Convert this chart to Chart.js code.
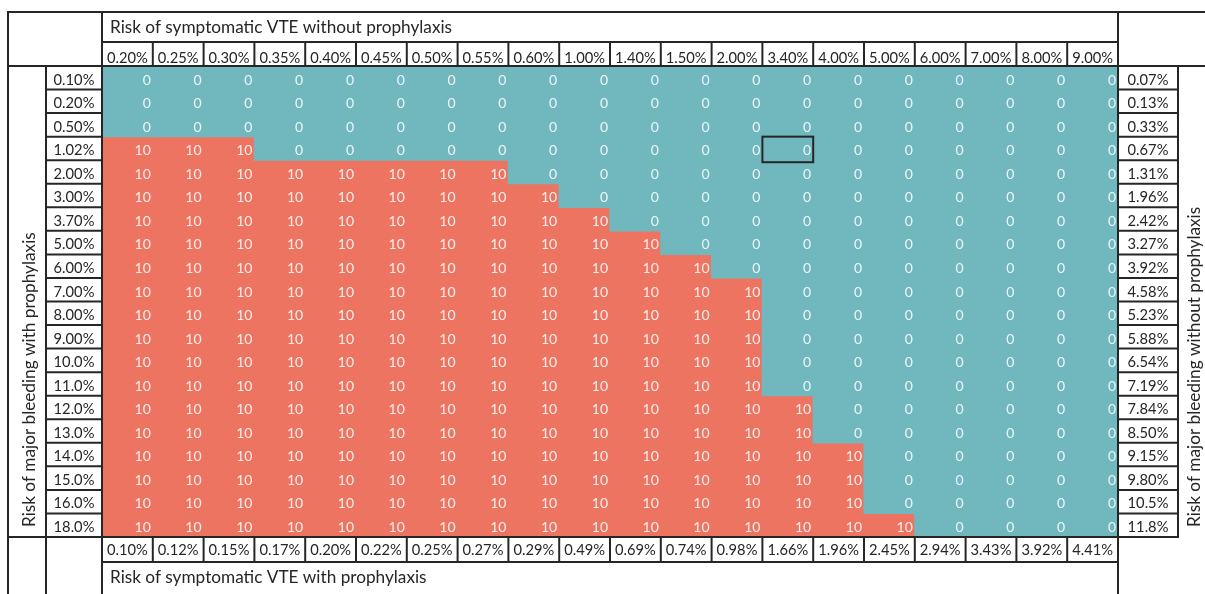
<!DOCTYPE html>
<html>
<head>
<meta charset="utf-8">
<script src="https://cdn.jsdelivr.net/npm/chart.js@4.4.1/dist/chart.umd.min.js"></script>
<style>
html,body{margin:0;padding:0;background:#fff;}
#wrap{width:1205px;height:594px;position:relative;}
</style>
</head>
<body>
<div id="wrap"><canvas id="c"></canvas></div>
<script>
// ---------- data ----------
const topTitle = 'Risk of symptomatic VTE without prophylaxis';
const bottomTitle = 'Risk of symptomatic VTE with prophylaxis';
const leftTitle = 'Risk of major bleeding with prophylaxis';
const rightTitle = 'Risk of major bleeding without prophylaxis';

const vteWithout = ['0.20%','0.25%','0.30%','0.35%','0.40%','0.45%','0.50%','0.55%','0.60%','1.00%',
                    '1.40%','1.50%','2.00%','3.40%','4.00%','5.00%','6.00%','7.00%','8.00%','9.00%'];
const vteWith = ['0.10%','0.12%','0.15%','0.17%','0.20%','0.22%','0.25%','0.27%','0.29%','0.49%',
                 '0.69%','0.74%','0.98%','1.66%','1.96%','2.45%','2.94%','3.43%','3.92%','4.41%'];
const bleedWith = ['0.10%','0.20%','0.50%','1.02%','2.00%','3.00%','3.70%','5.00%','6.00%','7.00%',
                   '8.00%','9.00%','10.0%','11.0%','12.0%','13.0%','14.0%','15.0%','16.0%','18.0%'];
const bleedWithout = ['0.07%','0.13%','0.33%','0.67%','1.31%','1.96%','2.42%','3.27%','3.92%','4.58%',
                      '5.23%','5.88%','6.54%','7.19%','7.84%','8.50%','9.15%','9.80%','10.5%','11.8%'];

// one row per bleeding-with-prophylaxis level, one value per VTE-without-prophylaxis level
const cellValues = [
  [ 0, 0, 0, 0, 0, 0, 0, 0, 0, 0, 0, 0, 0, 0, 0, 0, 0, 0, 0, 0],
  [ 0, 0, 0, 0, 0, 0, 0, 0, 0, 0, 0, 0, 0, 0, 0, 0, 0, 0, 0, 0],
  [ 0, 0, 0, 0, 0, 0, 0, 0, 0, 0, 0, 0, 0, 0, 0, 0, 0, 0, 0, 0],
  [10,10,10, 0, 0, 0, 0, 0, 0, 0, 0, 0, 0, 0, 0, 0, 0, 0, 0, 0],
  [10,10,10,10,10,10,10,10, 0, 0, 0, 0, 0, 0, 0, 0, 0, 0, 0, 0],
  [10,10,10,10,10,10,10,10,10, 0, 0, 0, 0, 0, 0, 0, 0, 0, 0, 0],
  [10,10,10,10,10,10,10,10,10,10, 0, 0, 0, 0, 0, 0, 0, 0, 0, 0],
  [10,10,10,10,10,10,10,10,10,10,10, 0, 0, 0, 0, 0, 0, 0, 0, 0],
  [10,10,10,10,10,10,10,10,10,10,10,10, 0, 0, 0, 0, 0, 0, 0, 0],
  [10,10,10,10,10,10,10,10,10,10,10,10,10, 0, 0, 0, 0, 0, 0, 0],
  [10,10,10,10,10,10,10,10,10,10,10,10,10, 0, 0, 0, 0, 0, 0, 0],
  [10,10,10,10,10,10,10,10,10,10,10,10,10, 0, 0, 0, 0, 0, 0, 0],
  [10,10,10,10,10,10,10,10,10,10,10,10,10, 0, 0, 0, 0, 0, 0, 0],
  [10,10,10,10,10,10,10,10,10,10,10,10,10, 0, 0, 0, 0, 0, 0, 0],
  [10,10,10,10,10,10,10,10,10,10,10,10,10,10, 0, 0, 0, 0, 0, 0],
  [10,10,10,10,10,10,10,10,10,10,10,10,10,10, 0, 0, 0, 0, 0, 0],
  [10,10,10,10,10,10,10,10,10,10,10,10,10,10,10, 0, 0, 0, 0, 0],
  [10,10,10,10,10,10,10,10,10,10,10,10,10,10,10, 0, 0, 0, 0, 0],
  [10,10,10,10,10,10,10,10,10,10,10,10,10,10,10, 0, 0, 0, 0, 0],
  [10,10,10,10,10,10,10,10,10,10,10,10,10,10,10,10, 0, 0, 0, 0]
];

const highlightRow = '1.02%';
const highlightCol = '3.40%';

// ---------- style ----------
const TEAL = '#70B8BE';
const SALMON = '#EE7462';
const INK = '#262626';
const FONT = 'Lato, "Open Sans", sans-serif';

// ---------- build chart ----------
const datasets = bleedWith.map((rowLabel, i) => ({
  label: rowLabel,
  data: vteWithout.map(() => 1),
  backgroundColor: cellValues[i].map(v => v >= 10 ? SALMON : TEAL),
  borderWidth: 0,
  barPercentage: 1,
  categoryPercentage: 1,
  inflateAmount: 0.6,
  stack: 'grid'
}));

const tablePlugin = {
  id: 'tableFrame',
  afterDatasetsDraw(chart) {
    const {ctx, chartArea: ca, scales: {x, y}} = chart;
    const nC = vteWithout.length, nR = bleedWith.length;
    const colW = (ca.right - ca.left) / nC;
    const L = ca.left, R = ca.right, T = ca.top, B = ca.bottom;
    const W = chart.width, H = chart.height;
    const frameL = 8, frameT = 12;
    const titleRowB = T - 24;
    const leftColR = 46;
    const rightColR = R + 60;
    const bottomTickB = B + 25;
    const colEdge = c => x.getPixelForValue(c) - colW / 2;
    const rowEdge = i => y.getPixelForValue(i);

    ctx.save();
    // cell values
    ctx.font = '14px ' + FONT;
    ctx.fillStyle = 'rgba(255,255,255,0.88)';
    ctx.textAlign = 'right';
    ctx.textBaseline = 'alphabetic';
    for (let i = 0; i < nR; i++) {
      for (let c = 0; c < nC; c++) {
        ctx.fillText(String(cellValues[i][c]), x.getPixelForValue(c) + colW / 2 - 2, rowEdge(i + 1) - 5);
      }
    }

    // frame lines
    ctx.strokeStyle = INK;
    ctx.lineWidth = 2;
    const line = (x1, y1, x2, y2) => { ctx.beginPath(); ctx.moveTo(x1, y1); ctx.lineTo(x2, y2); ctx.stroke(); };
    line(frameL, frameT, W, frameT);
    line(frameL, frameT - 1, frameL, H);
    line(L, titleRowB, R, titleRowB);
    line(frameL, T, W, T);
    line(L, frameT, L, H);
    line(R, frameT, R, H);
    line(leftColR, T, leftColR, H);
    line(frameL, B, rightColR + 1, B);
    line(L, bottomTickB, R, bottomTickB);
    line(rightColR, T, rightColR, B);
    for (let c = 1; c < nC; c++) {
      line(colEdge(c), titleRowB, colEdge(c), T);
      line(colEdge(c), B, colEdge(c), bottomTickB);
    }
    for (let i = 1; i < nR; i++) {
      line(leftColR, rowEdge(i), L, rowEdge(i));
      line(R, rowEdge(i), rightColR, rowEdge(i));
    }

    // highlighted cell
    const hc = vteWithout.indexOf(highlightCol), hr = bleedWith.indexOf(highlightRow);
    ctx.strokeRect(colEdge(hc), rowEdge(hr), colW, rowEdge(hr + 1) - rowEdge(hr) + 2);

    // tick labels
    ctx.fillStyle = INK;
    ctx.font = '14.7px ' + FONT;
    ctx.textAlign = 'center';
    for (let c = 0; c < nC; c++) {
      ctx.fillText(vteWithout[c], x.getPixelForValue(c), T - 3);
      ctx.fillText(vteWith[c], x.getPixelForValue(c), bottomTickB - 7);
    }
    for (let i = 0; i < nR; i++) {
      ctx.fillText(bleedWith[i], (leftColR + L) / 2, rowEdge(i + 1) - 5);
      ctx.fillText(bleedWithout[i], (R + rightColR) / 2, rowEdge(i + 1) - 5);
    }

    // titles
    ctx.font = '17.2px ' + FONT;
    ctx.textAlign = 'left';
    ctx.fillText(topTitle, L + 8, titleRowB - 9);
    ctx.fillText(bottomTitle, L + 8, bottomTickB + 21);
    ctx.save();
    ctx.translate(35, B - 10);
    ctx.rotate(-Math.PI / 2);
    ctx.fillText(leftTitle, 0, 0);
    ctx.restore();
    ctx.save();
    ctx.translate(rightColR + 22, B - 10);
    ctx.rotate(-Math.PI / 2);
    ctx.fillText(rightTitle, 0, 0);
    ctx.restore();
    ctx.restore();
  }
};

function build() {
  new Chart(document.getElementById('c'), {
    type: 'bar',
    data: { labels: vteWithout, datasets },
    options: {
      responsive: true,
      maintainAspectRatio: false,
      animation: false,
      layout: { padding: { left: 102, right: 87, top: 66, bottom: 57 } },
      plugins: { legend: { display: false }, tooltip: { enabled: false } },
      scales: {
        x: { type: 'category', stacked: true, offset: true, display: false },
        y: { type: 'linear', stacked: true, min: 0, max: bleedWith.length, reverse: true, display: false }
      }
    },
    plugins: [tablePlugin]
  });
}
Promise.all([document.fonts.load('14px Lato'), document.fonts.load('17px Lato')]).then(build, build);
</script>
</body>
</html>
